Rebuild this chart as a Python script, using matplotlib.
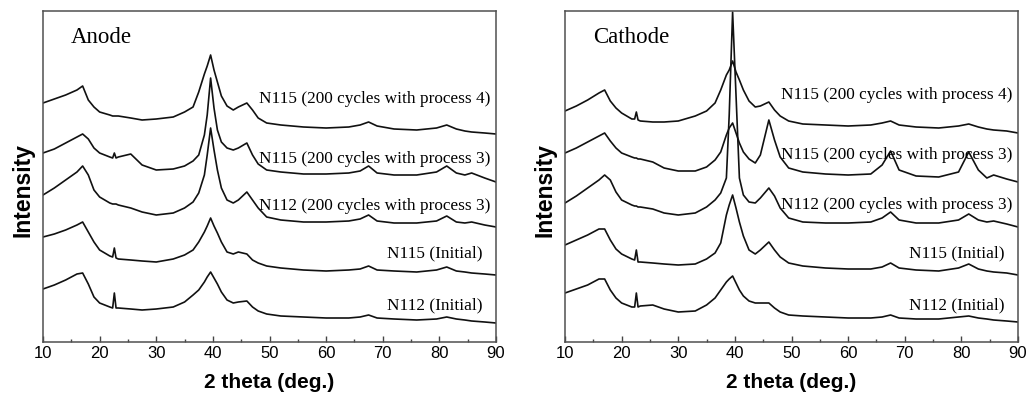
import matplotlib
matplotlib.use("Agg")
from matplotlib import pyplot as plt
from matplotlib.ticker import MultipleLocator

# 2 theta positions (deg.) shared by all patterns
two_theta = [10, 12, 14, 16, 17, 18, 19, 20, 21.8, 22.3, 22.6, 22.9, 23.3, 25.5, 27.5, 30, 33, 35,
             36.5, 37.5, 38.5, 39, 39.6, 40.2, 40.8, 41.5, 42.5, 43.6, 44.5, 46, 47, 48, 49.5, 52,
             56, 60, 64, 66, 67.5, 69, 72, 76, 79.5, 81.3, 83, 84.5, 85.7, 88, 90]

# Anode patterns (already offset, arbitrary units)
anode_n115_p4 = [239, 243, 247, 252, 256, 242, 235, 230, 227, 226, 226, 226, 226, 224, 222, 223, 225, 230,
                 235, 250, 268, 276, 287, 272, 260, 246, 236, 232, 235, 239, 232, 224, 219, 217,
                 215, 214, 215, 217, 220, 216, 213, 212, 214, 217, 213, 211, 210, 209, 208]
anode_n115_p3 = [189, 193, 199, 205, 208, 203, 194, 189, 185, 184, 189, 184, 185, 188, 177, 172, 173, 176,
                 181, 187, 207, 227, 264, 234, 212, 200, 194, 192, 194, 199, 187, 178, 172, 170,
                 168, 168, 169, 171, 176, 169, 167, 167, 170, 176, 169, 167, 169, 164, 160]
anode_n112_p3 = [147, 154, 162, 170, 176, 167, 152, 145, 139, 138, 138, 138, 137, 134, 130, 127, 129, 134,
                 140, 149, 167, 187, 214, 192, 172, 154, 142, 139, 142, 150, 142, 134, 125, 122,
                 120, 120, 121, 123, 127, 121, 119, 119, 121, 126, 120, 119, 120, 117, 115]
anode_n115_init = [105, 108, 112, 117, 120, 110, 100, 92, 86, 85, 94, 84, 83, 82, 81, 80, 83, 87,
                   92, 100, 110, 116, 124, 116, 109, 100, 90, 88, 90, 88, 82, 79, 76, 74,
                   72, 71, 72, 73, 76, 72, 71, 70, 72, 75, 71, 70, 69, 68, 67]
anode_n112_init = [53, 57, 62, 68, 69, 58, 45, 39, 35, 34, 49, 34, 34, 33, 32, 33, 35, 40,
                   47, 52, 60, 65, 70, 64, 58, 50, 42, 39, 40, 41, 35, 31, 28, 26,
                   25, 24, 24, 25, 27, 24, 23, 22, 23, 25, 23, 22, 21, 20, 19]

# Cathode patterns
cathode_n115_p4 = [231, 236, 242, 249, 252, 241, 234, 229, 223, 223, 230, 222, 221, 220, 220, 221, 226, 231,
                   239, 252, 267, 272, 281, 270, 262, 252, 241, 235, 236, 240, 232, 226, 221, 218,
                   217, 216, 217, 219, 221, 217, 215, 214, 216, 218, 215, 213, 212, 211, 209]
cathode_n115_p3 = [189, 194, 200, 206, 209, 201, 194, 189, 185, 184, 184, 183, 183, 180, 174, 171, 171, 175,
                   182, 190, 207, 214, 219, 209, 199, 190, 183, 179, 187, 222, 202, 185, 174, 170,
                   168, 167, 168, 177, 191, 172, 166, 165, 170, 190, 172, 164, 167, 163, 160]
cathode_n112_p3 = [139, 146, 154, 162, 167, 162, 150, 142, 137, 136, 136, 135, 135, 133, 129, 127, 129, 135,
                   142, 149, 164, 227, 330, 247, 164, 147, 140, 139, 144, 154, 146, 134, 124, 120,
                   119, 119, 120, 124, 130, 122, 119, 119, 122, 128, 122, 120, 121, 118, 115]
cathode_n115_init = [97, 102, 107, 113, 113, 102, 93, 88, 83, 82, 92, 80, 80, 79, 78, 77, 78, 83,
                     89, 99, 127, 137, 147, 134, 120, 106, 92, 88, 92, 100, 92, 85, 79, 76,
                     74, 73, 73, 75, 79, 74, 72, 71, 74, 78, 73, 71, 70, 69, 67]
cathode_n112_init = [49, 53, 57, 63, 63, 52, 44, 39, 35, 35, 49, 35, 36, 37, 33, 30, 31, 37,
                     44, 52, 60, 63, 66, 59, 52, 46, 41, 39, 39, 39, 34, 30, 27, 26,
                     25, 24, 24, 25, 27, 24, 23, 23, 25, 26, 24, 23, 22, 21, 20]

labels = ["N115 (200 cycles with process 4)", "N115 (200 cycles with process 3)",
          "N112 (200 cycles with process 3)", "N115 (Initial)", "N112 (Initial)"]

panels = [
    ("Anode", [anode_n115_p4, anode_n115_p3, anode_n112_p3, anode_n115_init, anode_n112_init],
     [0.734, 0.553, 0.411, 0.269, 0.112]),
    ("Cathode", [cathode_n115_p4, cathode_n115_p3, cathode_n112_p3, cathode_n115_init, cathode_n112_init],
     [0.745, 0.565, 0.414, 0.269, 0.112]),
]

serif = "Liberation Serif"
sans = "Liberation Sans"

fig = plt.figure(figsize=(10.28, 3.93), dpi=100)
lefts = [43 / 1028, 565 / 1028]
ax_w, ax_b, ax_h = 453 / 1028, 51 / 393, 331 / 393

for (name, curves, label_y), left in zip(panels, lefts):
    ax = fig.add_axes([left, ax_b, ax_w, ax_h])
    for y in curves:
        ax.plot(two_theta, y, color="#111111", lw=1.2, solid_joinstyle="round")
    ax.set_xlim(10, 90)
    ax.set_ylim(0, 331)
    ax.set_yticks([])
    ax.xaxis.set_major_locator(MultipleLocator(10))
    ax.xaxis.set_minor_locator(MultipleLocator(5))
    ax.tick_params(axis="x", which="major", direction="in", length=4, width=1, pad=3,
                   labelsize=12, color="#444444")
    ax.tick_params(axis="x", which="minor", direction="in", length=2.3, width=1, color="#444444")
    for lab in ax.get_xticklabels():
        lab.set_fontfamily(sans)
    for s in ax.spines.values():
        s.set_linewidth(1.1)
        s.set_color("#505050")

    ax.text(0.062, 0.92, name, transform=ax.transAxes, fontsize=16.5, family=serif,
            ha="left", va="center")
    for i, (txt, ty) in enumerate(zip(labels, label_y)):
        tx = 0.987 if i < 3 else 0.971
        ax.text(tx, ty, txt, transform=ax.transAxes, fontsize=12.4, family=serif,
                ha="right", va="center")

    # axis titles
    cx = left + ax_w / 2
    fig.text(cx, 1 - 382 / 393, "2 theta (deg.)", ha="center", va="center",
             fontsize=15, fontweight="bold", family=sans)
    fig.text(left - 20 / 1028, 1 - 190 / 393, "Intensity", rotation=90, ha="center", va="center",
             fontsize=16.5, fontweight="bold", family=sans)

fig.savefig("out.png", dpi=100)
